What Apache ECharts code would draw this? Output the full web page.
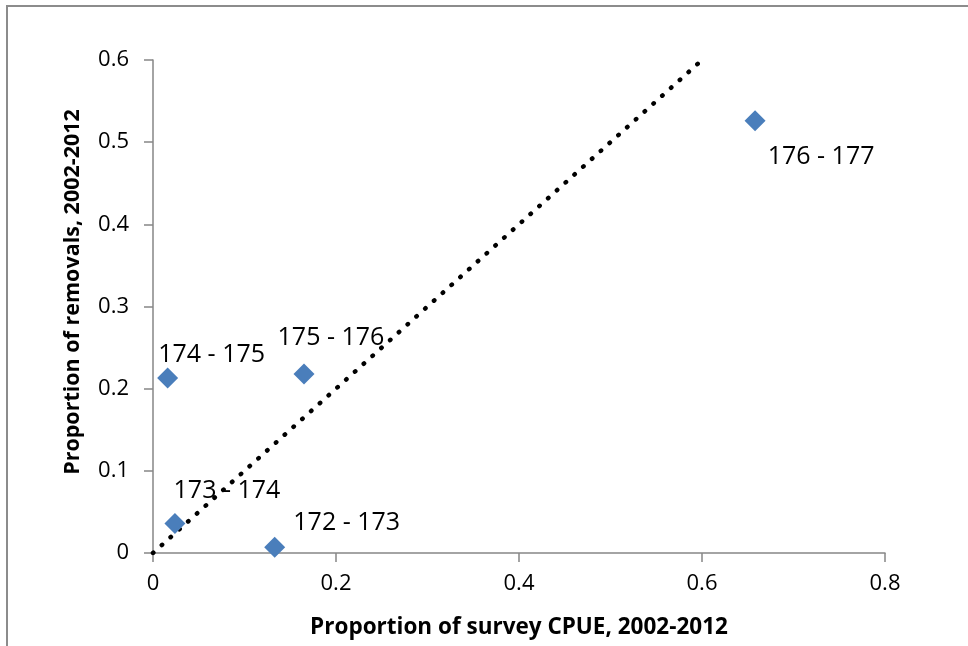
<!DOCTYPE html>
<html>
<head>
<meta charset="utf-8">
<title>Removals vs survey CPUE</title>
<script src="https://cdn.jsdelivr.net/npm/echarts@6/dist/echarts.min.js"></script>
<style>
    html, body { margin: 0; padding: 0; background: #fff; }
    #chart { width: 968px; height: 646px; }
</style>
</head>
<body>
<div id="chart"></div>
<script>
// data
var areaNames = ['172 - 173', '173 - 174', '174 - 175', '175 - 176', '176 - 177'];
var surveyCpue = [0.133, 0.024, 0.016, 0.165, 0.658];
var removals = [0.007, 0.036, 0.213, 0.218, 0.526];
var oneToOne = [[0, 0], [0.6, 0.6]];
var xTicks = [0, 0.2, 0.4, 0.6, 0.8];
var yTicks = [0, 0.1, 0.2, 0.3, 0.4, 0.5, 0.6];

// where each label sits relative to its marker (px)
var labelOffsets = [[72, -24], [52, -33], [44, -23], [27, -36], [66, 36]];

var font = '"Open Sans", "Noto Sans", sans-serif';
var axisGrey = '#868686';

var points = areaNames.map(function (name, i) {
    return {
        name: name,
        value: [surveyCpue[i], removals[i]],
        label: {offset: labelOffsets[i]}
    };
});

var myChart = echarts.init(document.getElementById('chart'), null, {renderer: 'canvas'});

var option = {
    animation: false,
    backgroundColor: '#fff',
    grid: {left: 153, right: 83, top: 60, bottom: 93, containLabel: false},
    xAxis: {
        type: 'value',
        min: xTicks[0],
        max: xTicks[xTicks.length - 1],
        interval: xTicks[1] - xTicks[0],
        splitLine: {show: false},
        axisLine: {show: true, lineStyle: {color: axisGrey, width: 1.5}},
        axisTick: {show: true, inside: false, length: 9, lineStyle: {color: axisGrey, width: 1.5}},
        axisLabel: {color: '#000', fontFamily: font, fontSize: 22, margin: 20}
    },
    yAxis: {
        type: 'value',
        min: yTicks[0],
        max: yTicks[yTicks.length - 1],
        interval: yTicks[1] - yTicks[0],
        splitLine: {show: false},
        axisLine: {show: true, lineStyle: {color: axisGrey, width: 1.5}},
        axisTick: {show: true, inside: false, length: 9, lineStyle: {color: axisGrey, width: 1.5}},
        axisLabel: {color: '#000', fontFamily: font, fontSize: 22, margin: 24}
    },
    graphic: [
        {
            // outer chart frame
            type: 'rect',
            shape: {x: 7, y: 6, width: 1000, height: 700},
            style: {fill: 'none', stroke: '#8c8c8c', lineWidth: 2},
            silent: true
        },
        {
            type: 'text',
            x: 519, y: 628,
            style: {
                text: 'Proportion of survey CPUE, 2002-2012',
                fontFamily: font, fontSize: 22.5, fontWeight: 'bold', fill: '#000',
                align: 'center', verticalAlign: 'middle'
            }
        },
        {
            type: 'text',
            x: 73, y: 292,
            rotation: Math.PI / 2,
            style: {
                text: 'Proportion of removals, 2002-2012',
                fontFamily: font, fontSize: 21.5, fontWeight: 'bold', fill: '#000',
                align: 'center', verticalAlign: 'middle'
            }
        }
    ],
    series: [
        {
            name: '1:1',
            type: 'line',
            data: oneToOne,
            symbol: 'none',
            silent: true,
            z: 1,
            lineStyle: {color: '#000', width: 4.5, type: [0.5, 11.3], cap: 'round'}
        },
        {
            name: 'Areas',
            type: 'scatter',
            data: points,
            symbol: 'diamond',
            symbolSize: 21,
            z: 2,
            itemStyle: {color: '#4a7ebb', opacity: 1},
            label: {
                show: true,
                position: 'inside',
                formatter: '{b}',
                color: '#000',
                opacity: 1,
                fontFamily: font,
                fontSize: 25,
                align: 'center',
                verticalAlign: 'middle'
            }
        }
    ]
};

myChart.setOption(option);
</script>
</body>
</html>
